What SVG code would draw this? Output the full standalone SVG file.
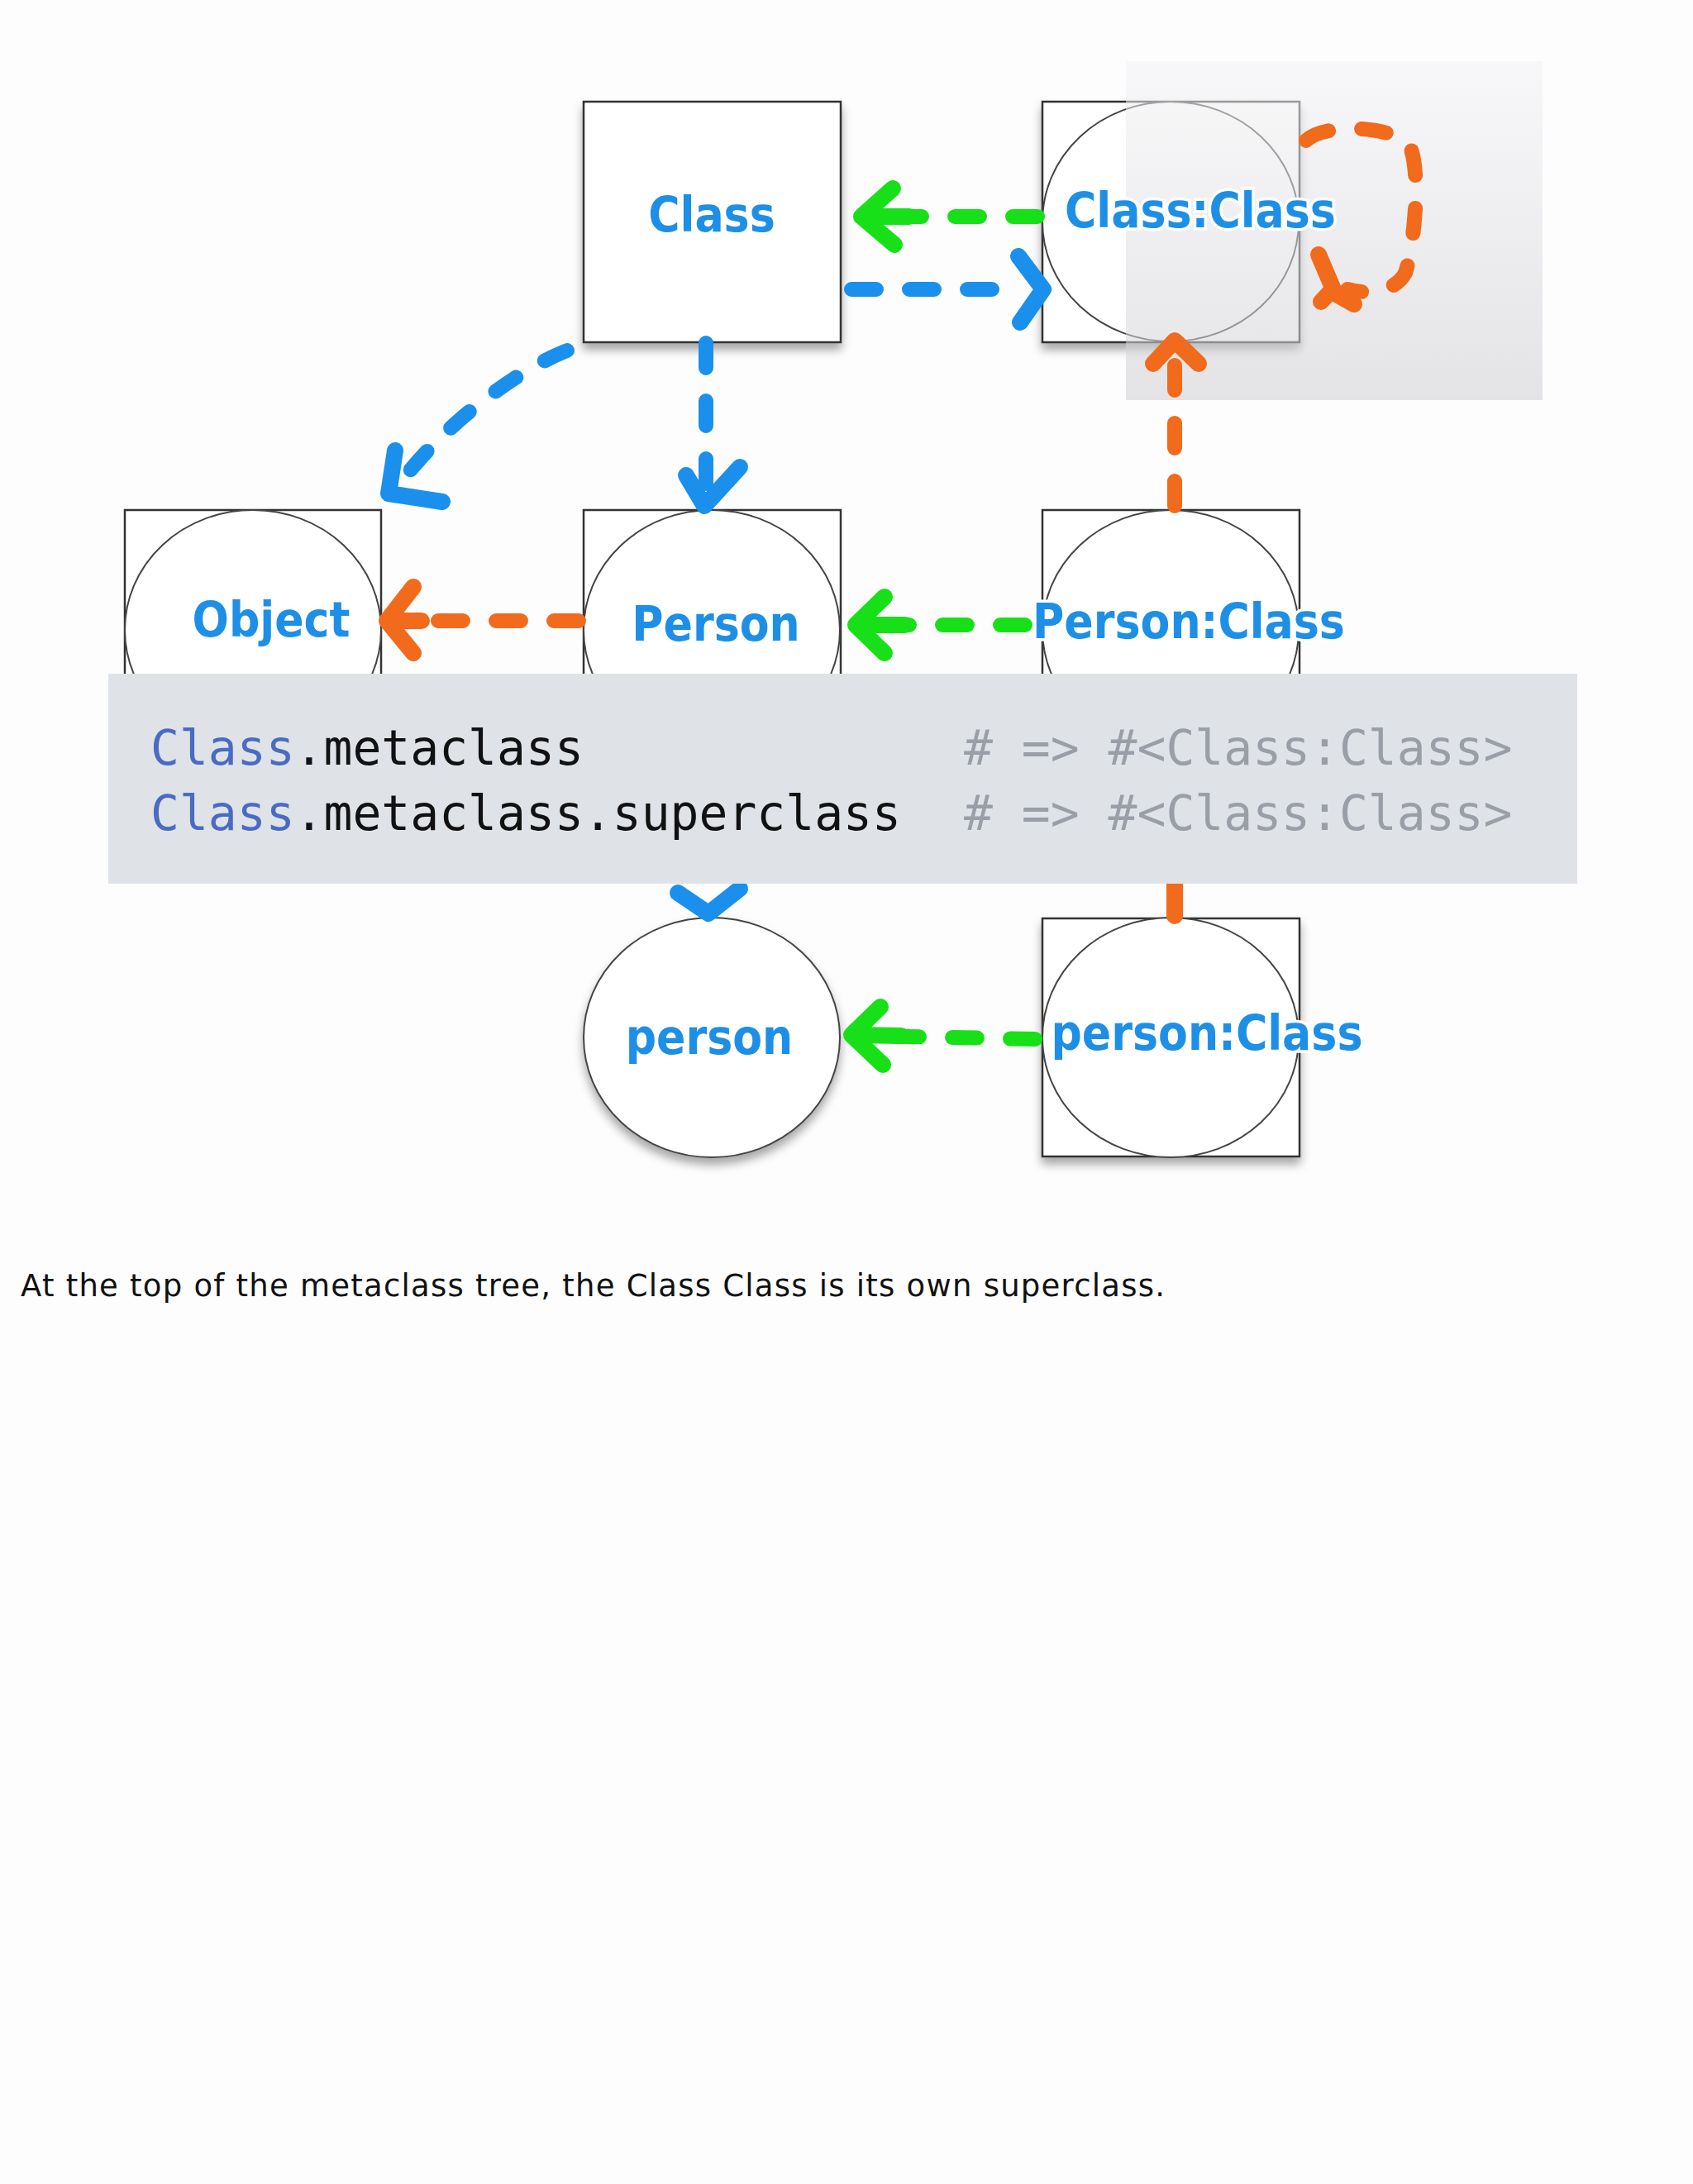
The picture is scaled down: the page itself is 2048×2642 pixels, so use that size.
<svg xmlns="http://www.w3.org/2000/svg" width="2048" height="2642" viewBox="0 0 2048 2642">
<defs>
<linearGradient id="gr" x1="0" y1="0" x2="0" y2="1"><stop offset="0" stop-color="#f3f3f5"/><stop offset="1" stop-color="#cfcfd4"/></linearGradient>
<filter id="sh" x="-10%" y="-10%" width="130%" height="130%"><feDropShadow dx="0" dy="8" stdDeviation="6" flood-color="#000" flood-opacity="0.35"/></filter>
</defs>
<style>
.box{fill:#fff;stroke:#333;stroke-width:2.5}
.circ{fill:#fff;stroke:#444;stroke-width:2}
.lbl{font-family:"DejaVu Sans Condensed","DejaVu Sans",sans-serif;font-stretch:condensed;font-weight:bold;font-size:58px;fill:#1e8fe6;stroke:#fff;stroke-width:7;paint-order:stroke;text-anchor:middle}
.b{stroke:#1a90ec}.g{stroke:#18e018}.o{stroke:#f26a1b}
.d{fill:none;stroke-width:18;stroke-linecap:round;stroke-dasharray:30 40}
.h{fill:none;stroke-width:20;stroke-linecap:round;stroke-linejoin:round}
.code{font-family:"DejaVu Sans Mono",monospace;font-size:58px;fill:#111}
.kw{fill:#4a6bc2}.cm{fill:#9a9ea6}
</style>
<rect width="2048" height="2642" fill="#fdfdfe"/>
<g id="Class"><rect class="box" x="706" y="123" width="311" height="291" filter="url(#sh)"/><text class="lbl" x="861" y="280">Class</text></g>
<g id="ClassClass"><rect class="box" x="1261" y="123" width="311" height="291" filter="url(#sh)"/><ellipse class="circ" cx="1416" cy="268" rx="155" ry="145"/></g>
<rect x="1362" y="74" width="504" height="410" fill="url(#gr)" opacity="0.55"/>
<text class="lbl" x="1452" y="275">Class:Class</text>
<g id="Object"><rect class="box" x="151" y="617" width="310" height="300"/><ellipse class="circ" cx="306" cy="762" rx="155" ry="145"/><text class="lbl" x="328" y="770">Object</text></g>
<g id="Person"><rect class="box" x="706" y="617" width="311" height="300"/><ellipse class="circ" cx="861" cy="762" rx="155" ry="145"/><text class="lbl" x="866" y="775">Person</text></g>
<g id="PersonClass"><rect class="box" x="1261" y="617" width="311" height="300"/><ellipse class="circ" cx="1416" cy="762" rx="155" ry="145"/><text class="lbl" x="1438" y="772">Person:Class</text></g>
<g id="person"><ellipse class="circ" cx="861" cy="1255" rx="155" ry="145" stroke-width="3" filter="url(#sh)"/><text class="lbl" x="858" y="1275">person</text></g>
<g id="personClass"><rect class="box" x="1261" y="1111" width="311" height="288" filter="url(#sh)"/><ellipse class="circ" cx="1416" cy="1255" rx="155" ry="145"/><text class="lbl" x="1460" y="1270">person:Class</text></g>
<g id="connectors">
<path class="d g" d="M1255 262 L1060 262"/><path class="h g" d="M1080 228 L1042 262 L1082 296 M1045 262 L1100 262"/>
<path class="d b" d="M1030 350 L1240 350"/><path class="h b" d="M1232 310 L1262 350 L1234 390"/>
<path class="d o" d="M1580 170 C1600 150 1680 150 1705 175 C1720 210 1710 300 1700 330 C1690 350 1660 358 1630 350"/><path class="h o" d="M1595 308 L1615 355 L1638 368 M1612 350 L1598 365"/>
<path class="d b" d="M686 424 C620 450 530 520 480 590"/><path class="h b" d="M478 545 L470 597 L535 607"/>
<path class="d b" d="M854 415 L854 600"/><path class="h b" d="M830 575 L852 612 L895 565"/>
<path class="d o" d="M1421 612 L1421 430"/><path class="h o" d="M1395 440 L1421 412 L1450 440"/>
<path class="d o" d="M700 751 L490 751"/><path class="h o" d="M500 710 L468 751 L500 790 M472 751 L510 751"/>
<path class="d g" d="M1240 756 L1050 756"/><path class="h g" d="M1070 722 L1035 756 L1070 790 M1040 756 L1095 756"/>
<path class="h b" d="M820 1080 L857 1105 L895 1075"/>
<path class="h o" d="M1421 1069 L1421 1108"/>
<path class="d g" d="M1252 1257 L1050 1253"/><path class="h g" d="M1065 1218 L1030 1252 L1068 1288 M1035 1252 L1090 1253"/>
</g>
<rect x="131" y="815" width="1777" height="254" fill="#dfe3e8"/>
<text class="code" x="182" y="925"><tspan class="kw">Class</tspan>.metaclass</text>
<text class="code" x="182" y="1004"><tspan class="kw">Class</tspan>.metaclass.superclass</text>
<text class="code cm" x="1166" y="925"># =&gt; #&lt;Class:Class&gt;</text>
<text class="code cm" x="1166" y="1004"># =&gt; #&lt;Class:Class&gt;</text>
<text x="25" y="1568" font-family="DejaVu Sans,sans-serif" font-size="37" fill="#111" textLength="1384">At the top of the metaclass tree, the Class Class is its own superclass.</text>
</svg>
